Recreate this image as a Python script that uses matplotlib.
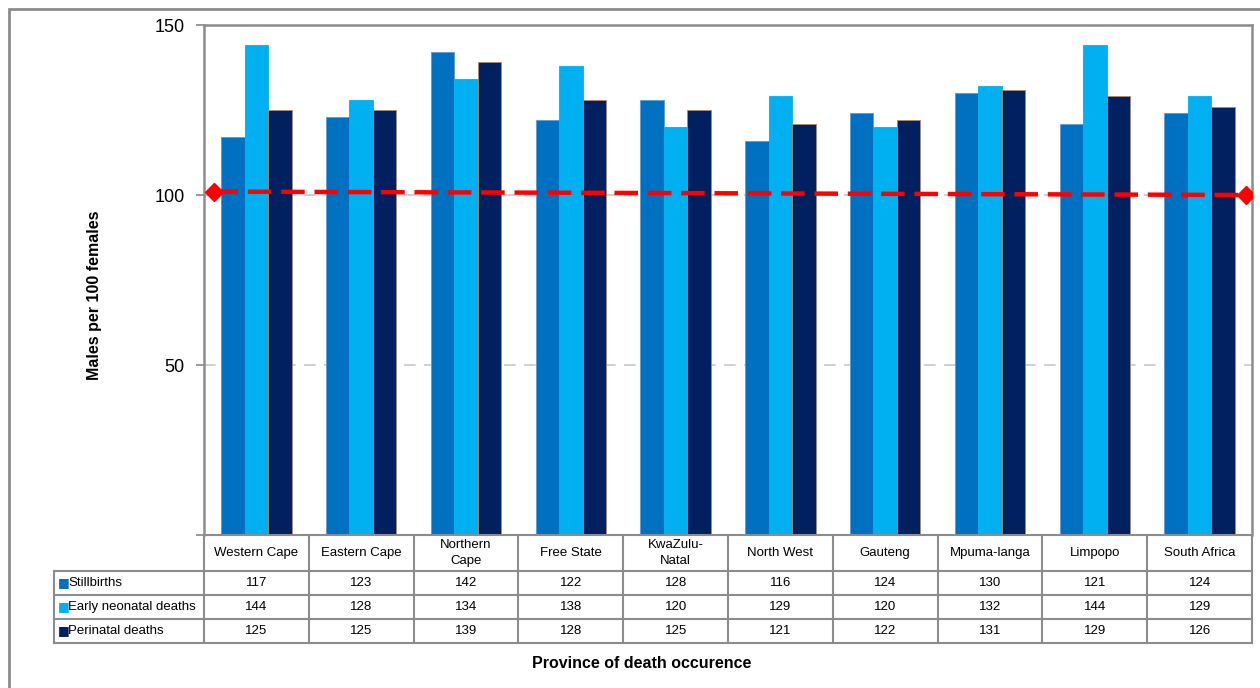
import numpy as np
import matplotlib.pyplot as plt
import matplotlib.transforms as mtransforms
from matplotlib.patches import Rectangle

plt.rcParams['font.family'] = ['Liberation Sans', 'DejaVu Sans']

provinces = ["Western Cape", "Eastern Cape", "Northern\nCape", "Free State", "KwaZulu-\nNatal",
             "North West", "Gauteng", "Mpuma-langa", "Limpopo", "South Africa"]
stillbirths = [117, 123, 142, 122, 128, 116, 124, 130, 121, 124]
early_neonatal = [144, 128, 134, 138, 120, 129, 120, 132, 144, 129]
perinatal = [125, 125, 139, 128, 125, 121, 122, 131, 129, 126]
series_names = ["Stillbirths", "Early neonatal deaths", "Perinatal deaths"]
colors = ["#0070C0", "#00B0F0", "#002060"]

# reference line (equal ratio), drawn across the plot
ref_x = [-0.4, 9.44]
ref_y = [101, 100]

fig = plt.figure(figsize=(12.6, 6.88), dpi=100)
W, H = 1260, 688
ax = fig.add_axes([204 / W, 1 - 535 / H, 1048 / W, 510 / H])

# outer chart border
fig.patches.append(Rectangle((9 / W, -0.1), 1.2, 1 - 9 / H + 0.1, transform=fig.transFigure,
                             fill=False, edgecolor="#8c8c8c", linewidth=2))

n = len(provinces)
x = np.arange(n)
bw = 0.224
all_series = [stillbirths, early_neonatal, perinatal]
edges = ["#5b9bd5", "#00B0F0", "#b08a6a"]
for i, (vals, c) in enumerate(zip(all_series, colors)):
    ax.bar(x + (i - 1) * bw, vals, bw, color=c, edgecolor=edges[i], linewidth=0.6, zorder=2)

ax.plot(ref_x, ref_y, color="#FF0000", linewidth=3.2, linestyle=(0, (5.3, 2.2)),
        marker="D", markersize=9, zorder=3)

ax.set_xlim(-0.5, n - 0.5)
ax.set_ylim(0, 150)
ax.set_yticks([0, 50, 100, 150])
ax.set_yticklabels(["", "50", "100", "150"], fontsize=13)
ax.set_xticks([])
ax.tick_params(axis="y", length=6, width=1.2, color="#888888", pad=8)
ax.yaxis.grid(True, linestyle=(0, (7, 5)), color="#c8c8c8", linewidth=1.2, zorder=0)
ax.set_axisbelow(True)
for s in ax.spines.values():
    s.set_color("#8c8c8c")
    s.set_linewidth(1.8)
ax.spines["bottom"].set_visible(False)

ax.set_ylabel("Males per 100 females", fontsize=11.5, fontweight="bold")
ax.yaxis.set_label_coords(-0.0975, 0.47)

# data table under the chart (x in data units, y in axes fraction)
tr = mtransforms.blended_transform_factory(ax.transData, ax.transAxes)
px = 510.0  # axes height in pixels
header_h, row_h = 36 / px, 24 / px
label_left = -0.5 - 150 / 104.8
line_kw = dict(color="#8c8c8c", linewidth=1.5, transform=tr, clip_on=False)

row_edges = [0, -header_h] + [-header_h - row_h * (k + 1) for k in range(len(all_series))]
bottom = row_edges[-1]
ax.plot([-0.5, n - 0.5], [0, 0], **line_kw)
for yv in row_edges[1:]:
    ax.plot([label_left, n - 0.5], [yv, yv], **line_kw)
for j in range(n + 1):
    ax.plot([j - 0.5, j - 0.5], [0, bottom], **line_kw)
ax.plot([label_left, label_left], [-header_h, bottom], **line_kw)

for j, name in enumerate(provinces):
    ax.text(j, -header_h / 2, name, transform=tr, ha="center", va="center",
            fontsize=9.5, linespacing=1.45)
for k, (vals, name, c) in enumerate(zip(all_series, series_names, colors)):
    yc = -header_h - row_h * (k + 0.5)
    for j, v in enumerate(vals):
        ax.text(j, yc, str(v), transform=tr, ha="center", va="center", fontsize=9.5)
    ax.text(label_left + 4 / 104.8, yc, "\u25a0", color=c, transform=tr, ha="left",
            va="center", fontsize=9, family="DejaVu Sans")
    ax.text(label_left + 14 / 104.8, yc, name, transform=tr, ha="left", va="center",
            fontsize=9.5)

fig.text(642 / W, 1 - 664 / H, "Province of death occurence", fontsize=11.5,
         fontweight="bold", ha="center", va="center")

fig.savefig("out.png", dpi=100)
